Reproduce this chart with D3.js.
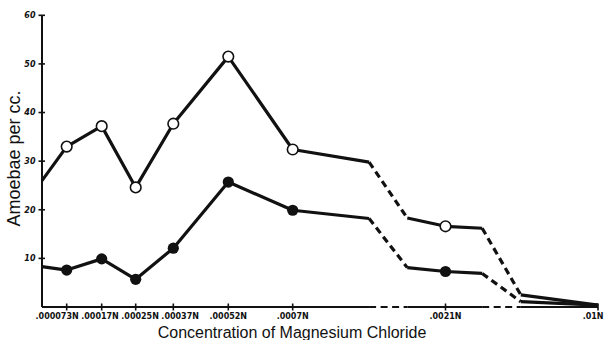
<!DOCTYPE html>
<html>
<head>
<meta charset="utf-8">
<script src="https://cdn.jsdelivr.net/npm/d3@7"></script>
<style>
  body { margin: 0; background: #fff; }
  svg text { fill: #111; }
</style>
</head>
<body>
<svg id="chart" width="605" height="340"></svg>
<script>
// Concentrations marked on the x axis
const tickLabels = [".000073N", ".00017N", ".00025N", ".00037N", ".00052N", ".0007N", ".0021N", ".01N"];
const tickConc = [0.000073, 0.00017, 0.00025, 0.00037, 0.00052, 0.0007, 0.0021, 0.01];

// Concentrations at which the two count curves are traced (0 = axis origin)
const curveConc = [0, 0.000073, 0.00017, 0.00025, 0.00037, 0.00052, 0.0007, 0.0014, 0.00175, 0.0021, 0.004, 0.006, 0.01];
const openValues = [26, 33, 37.2, 24.6, 37.7, 51.5, 32.4, 29.8, 18.3, 16.6, 16.2, 2.5, 0.4];
const filledValues = [8.3, 7.6, 9.9, 5.7, 12.1, 25.7, 19.9, 18.2, 8.1, 7.3, 6.9, 1.1, 0.4];

// Third curve lying on the baseline from .0007N onward
const zeroConc = [0.0007, 0.0014, 0.00175, 0.0021, 0.004, 0.006, 0.01];
const zeroValues = [0, 0, 0, 0, 0, 0, 0];

// Concentrations that carry a plotted point
const markerConc = [0.000073, 0.00017, 0.00025, 0.00037, 0.00052, 0.0007, 0.0021];

// Stretches drawn as broken (dashed) lines
const brokenSpans = [[0.0014, 0.00175], [0.004, 0.006]];

const yTicks = [10, 20, 30, 40, 50, 60];

const W = 605;
const svg = d3.select("#chart");

// Irregularly spaced concentration axis: piecewise-linear between labelled stops
const x = d3.scaleLinear()
  .domain([0, ...tickConc])
  .range([42, 66.7, 101.7, 135.7, 173.3, 228.3, 292.7, 445.5, 598]);

const y = d3.scaleLinear().domain([0, 60]).range([307, 15.3]);

const ink = "#111";

// ---- y axis ----
svg.append("line")
  .attr("x1", x(0)).attr("x2", x(0))
  .attr("y1", y(60)).attr("y2", y(0))
  .attr("stroke", ink).attr("stroke-width", 2);

svg.selectAll("line.ytick").data(yTicks).join("line")
  .attr("class", "ytick")
  .attr("x1", x(0) - 3.5).attr("x2", x(0) + 3)
  .attr("y1", d => y(d)).attr("y2", d => y(d))
  .attr("stroke", ink).attr("stroke-width", 1.6);

svg.selectAll("text.ylab").data(yTicks).join("text")
  .attr("class", "ylab")
  .attr("x", x(0) - 6.5)
  .attr("y", d => y(d))
  .attr("dy", "0.35em")
  .attr("text-anchor", "end")
  .attr("font-family", "DejaVu Sans")
  .attr("font-weight", "bold")
  .attr("font-style", "italic")
  .attr("font-size", 8)
  .text(d => d);

svg.append("text")
  .attr("transform", `translate(19.5,158.5) rotate(-90)`)
  .attr("text-anchor", "middle")
  .attr("font-family", "Liberation Sans")
  .attr("font-size", 18)
  .text("Amoebae per cc.");

// ---- x axis ----
svg.append("line")
  .attr("x1", x(0)).attr("x2", x(0.0007))
  .attr("y1", y(0)).attr("y2", y(0))
  .attr("stroke", ink).attr("stroke-width", 2);

svg.selectAll("line.xtick").data(tickConc).join("line")
  .attr("class", "xtick")
  .attr("x1", d => x(d)).attr("x2", d => x(d))
  .attr("y1", y(0) - 3.5).attr("y2", y(0) + 3.5)
  .attr("stroke", ink).attr("stroke-width", 1.6);

const xLabels = svg.selectAll("text.xlab").data(tickConc).join("text")
  .attr("class", "xlab")
  .attr("y", 318.5)
  .attr("text-anchor", "start")
  .attr("font-family", "DejaVu Sans")
  .attr("font-weight", "bold")
  .attr("font-size", 8)
  .text((d, i) => tickLabels[i]);

// Spread crowded tick labels: merge overlapping labels into blocks centred
// on their ticks, keeping every block inside the drawing
(function spreadLabels() {
  const widths = xLabels.nodes().map(n => n.getComputedTextLength());
  const gap = 2.5;
  const layout = b => {
    let off = 0, sum = 0;
    b.offs = [];
    b.idx.forEach(i => {
      b.offs.push(off);
      sum += (x(tickConc[i]) - widths[i] / 2) - off;
      off += widths[i] + gap;
    });
    b.width = off - gap;
    b.left = Math.max(1, Math.min(W - 1.5 - b.width, sum / b.idx.length));
    return b;
  };
  let blocks = tickConc.map((c, i) => layout({ idx: [i] }));
  let merged = true;
  while (merged) {
    merged = false;
    for (let k = 0; k < blocks.length - 1; k++) {
      const a = blocks[k], b = blocks[k + 1];
      if (a.left + a.width + gap > b.left) {
        blocks.splice(k, 2, layout({ idx: a.idx.concat(b.idx) }));
        merged = true;
        break;
      }
    }
  }
  const pos = [];
  blocks.forEach(b => b.idx.forEach((i, j) => { pos[i] = b.left + b.offs[j]; }));
  xLabels.attr("x", (d, i) => pos[i]);
})();

svg.append("text")
  .attr("x", 292)
  .attr("y", 337.5)
  .attr("text-anchor", "middle")
  .attr("font-family", "Liberation Sans")
  .attr("font-size", 16)
  .text("Concentration of Magnesium Chloride");

// ---- curves ----
const isBroken = (c0, c1) => brokenSpans.some(([a, b]) => c0 >= a && c1 <= b);
const line = d3.line().x(d => x(d[0])).y(d => y(d[1]));

function drawCurve(concs, values, width) {
  const pts = concs.map((c, i) => [c, values[i]]);
  // group consecutive segments into runs of the same style
  const runs = [];
  for (let i = 0; i < pts.length - 1; i++) {
    const broken = isBroken(pts[i][0], pts[i + 1][0]);
    const last = runs[runs.length - 1];
    if (last && last.broken === broken) last.pts.push(pts[i + 1]);
    else runs.push({ broken, pts: [pts[i], pts[i + 1]] });
  }
  svg.append("g").selectAll("path").data(runs).join("path")
    .attr("d", r => line(r.pts))
    .attr("fill", "none")
    .attr("stroke", ink)
    .attr("stroke-width", width)
    .attr("stroke-linejoin", "round")
    .attr("stroke-dasharray", r => r.broken ? "7,4.5" : null);
}

drawCurve(zeroConc, zeroValues, 2.2);
drawCurve(curveConc, openValues, 3.2);
drawCurve(curveConc, filledValues, 3.2);

const markerPts = (values) => curveConc
  .map((c, i) => [c, values[i]])
  .filter(p => markerConc.includes(p[0]));

svg.append("g").selectAll("circle").data(markerPts(openValues)).join("circle")
  .attr("cx", d => x(d[0])).attr("cy", d => y(d[1]))
  .attr("r", 5.3)
  .attr("fill", "#fff").attr("stroke", ink).attr("stroke-width", 1.6);

svg.append("g").selectAll("circle").data(markerPts(filledValues)).join("circle")
  .attr("cx", d => x(d[0])).attr("cy", d => y(d[1]))
  .attr("r", 5.6)
  .attr("fill", ink);
</script>
</body>
</html>
